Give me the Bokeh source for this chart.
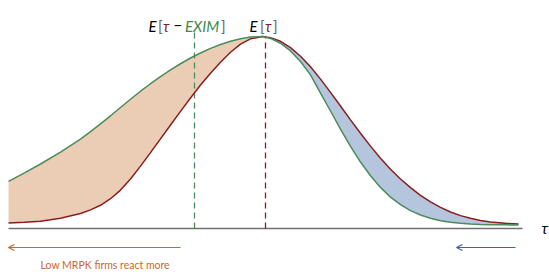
from bokeh.plotting import figure
from bokeh.models import Range1d, Label, Arrow, OpenHead
from bokeh.embed import file_html
from bokeh.resources import INLINE

# grid of tau positions (plot units)
tau = [8, 24, 40, 60, 80, 90, 100, 110, 120, 130, 140, 150, 160, 170, 180, 190,
       200, 210, 220, 230, 240, 250, 262, 270, 280, 290, 300, 310, 320, 330, 340,
       350, 360, 370, 380, 390, 400, 410, 420, 430, 440, 450, 460, 470, 480, 490,
       505, 518]

# density conditional on EXIM (green)
dens_exim = [0.245, 0.290, 0.336, 0.398, 0.466, 0.505, 0.545, 0.587, 0.630, 0.673,
             0.715, 0.754, 0.791, 0.826, 0.858, 0.888, 0.914, 0.938, 0.958, 0.975,
             0.988, 0.997, 1.000, 0.990, 0.965, 0.925, 0.870, 0.800, 0.705, 0.612,
             0.518, 0.428, 0.346, 0.275, 0.214, 0.163, 0.124, 0.093, 0.070, 0.053,
             0.040, 0.032, 0.027, 0.023, 0.021, 0.020, 0.019, 0.018]

# unconditional density (red)
dens_all = [0.028, 0.032, 0.038, 0.053, 0.078, 0.097, 0.121, 0.155, 0.200, 0.258,
            0.325, 0.395, 0.467, 0.539, 0.610, 0.680, 0.747, 0.809, 0.866, 0.918,
            0.960, 0.988, 1.000, 0.994, 0.975, 0.942, 0.897, 0.842, 0.778, 0.709,
            0.638, 0.566, 0.496, 0.429, 0.366, 0.309, 0.258, 0.213, 0.173, 0.139,
            0.110, 0.086, 0.067, 0.053, 0.042, 0.034, 0.027, 0.023]

mean_exim = 194   # E[tau - EXIM]
mean_all = 265    # E[tau]
peak_tau = 262
axis_end = 522

GREEN = "#4a8c5c"
RED = "#8b1d1d"
ORANGE_FILL = "#ebcdb5"
BLUE_FILL = "#b4c5dd"
ORANGE = "#c8672e"
BLUE = "#3a64a3"
LABEL_GREEN = "#3e8a4c"
FONT = "Lato"

p = figure(width=549, height=274, output_backend="svg", toolbar_location=None,
           x_range=Range1d(0, 549), y_range=Range1d(-0.2396, 1.1875),
           x_axis_type=None, y_axis_type=None, min_border=0)
p.outline_line_color = None
p.grid.visible = False
p.background_fill_color = "white"

k = tau.index(peak_tau)
# fills between curves
p.varea(x=tau[:k + 1], y1=dens_all[:k + 1], y2=dens_exim[:k + 1],
        fill_color=ORANGE_FILL, fill_alpha=1.0)
p.varea(x=tau[k:], y1=dens_exim[k:], y2=dens_all[k:],
        fill_color=BLUE_FILL, fill_alpha=1.0)

# baseline axis
p.line(x=[tau[0], axis_end], y=[0, 0], line_color="#707070", line_width=1.5)

# dashed mean lines
p.line(x=[mean_exim, mean_exim], y=[0, 1.031], line_color=GREEN,
       line_width=1.3, line_dash="6 4")
p.line(x=[mean_all, mean_all], y=[0, 1.0], line_color=RED,
       line_width=1.3, line_dash="6 4")

# curves
p.line(x=tau, y=dens_all, line_color=RED, line_width=1.5)
p.line(x=tau, y=dens_exim, line_color=GREEN, line_width=1.5)

# top labels
ty = 1.057

def piece(x, text, color, style="italic"):
    p.add_layout(Label(x=x, y=ty, text=text, text_color=color, text_font=FONT,
                       text_font_size="15px", text_font_style=style,
                       text_baseline="alphabetic", text_align="left"))

piece(mean_exim - 46, "E", "black")
piece(mean_exim - 36.5, "[", "#666666", "normal")
piece(mean_exim - 31.5, "τ", RED)
piece(mean_exim - 21, "−", "black", "normal")
piece(mean_exim - 9.5, "EXIM", LABEL_GREEN)
piece(mean_exim + 26.5, "]", "#666666", "normal")

piece(mean_all - 16, "E", "black")
piece(mean_all - 5.5, "[", "#666666", "normal")
piece(mean_all - 0.5, "τ", RED)
piece(mean_all + 7.5, "]", "#666666", "normal")

# tau axis label
p.add_layout(Label(x=541, y=0.005, text="τ", text_color="black", text_font=FONT,
                   text_font_size="15px", text_font_style="italic",
                   text_baseline="middle", text_align="left"))

# arrows
p.add_layout(Arrow(end=OpenHead(size=6, line_color=ORANGE, line_width=1.2),
                   x_start=180, y_start=-0.099, x_end=8, y_end=-0.099,
                   line_color=ORANGE, line_width=1.2))
p.add_layout(Arrow(end=OpenHead(size=6, line_color=BLUE, line_width=1.2),
                   x_start=515, y_start=-0.099, x_end=456, y_end=-0.099,
                   line_color=BLUE, line_width=1.2))

p.add_layout(Label(x=40, y=-0.19, text="Low MRPK firms react more",
                   text_color=ORANGE, text_font=FONT, text_font_size="10.5px",
                   text_baseline="alphabetic", text_align="left"))

open("out.html", "w").write(file_html(p, INLINE))
